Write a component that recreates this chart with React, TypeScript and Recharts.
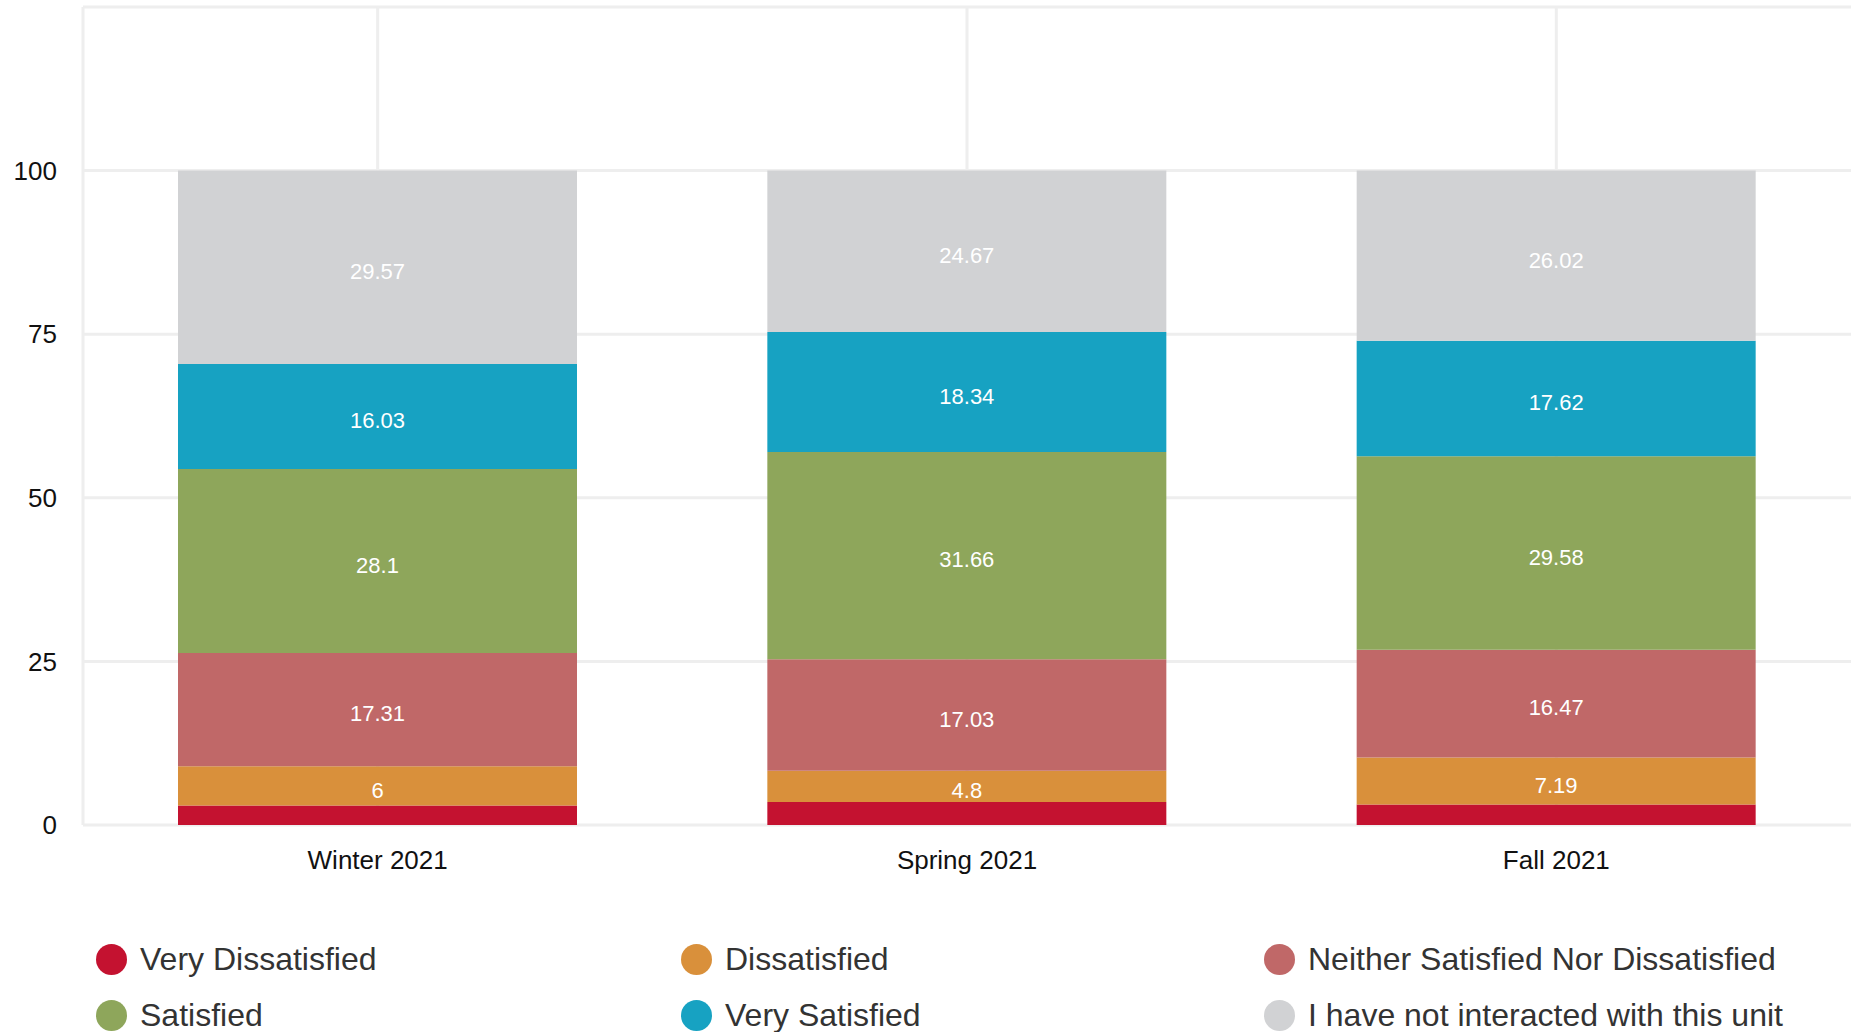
import { Bar, BarChart, CartesianGrid, LabelList, XAxis, YAxis } from "recharts"

const terms = ["Winter 2021", "Spring 2021", "Fall 2021"]

const veryDissatisfied = [2.99, 3.5, 3.12]
const dissatisfied = [6, 4.8, 7.19]
const neither = [17.31, 17.03, 16.47]
const satisfied = [28.1, 31.66, 29.58]
const verySatisfied = [16.03, 18.34, 17.62]
const notInteracted = [29.57, 24.67, 26.02]

const yTicks = [0, 25, 50, 75, 100, 125]

const series = [
  { key: "veryDissatisfied", name: "Very Dissatisfied", color: "#c41230", values: veryDissatisfied, label: false },
  { key: "dissatisfied", name: "Dissatisfied", color: "#d9903b", values: dissatisfied, label: true },
  { key: "neither", name: "Neither Satisfied Nor Dissatisfied", color: "#c06868", values: neither, label: true },
  { key: "satisfied", name: "Satisfied", color: "#8ea65b", values: satisfied, label: true },
  { key: "verySatisfied", name: "Very Satisfied", color: "#17a2c2", values: verySatisfied, label: true },
  { key: "notInteracted", name: "I have not interacted with this unit", color: "#d1d2d4", values: notInteracted, label: true },
]

// legend reads left-to-right, three per row
const legendOrder = [0, 1, 2, 3, 4, 5]

const FONT = "'Liberation Sans', Arial, Helvetica, sans-serif"

export default function App() {
  const data = terms.map((name, i) => {
    const row: Record<string, string | number> = { name }
    series.forEach((s) => {
      row[s.key] = s.values[i]
    })
    return row
  })

  return (
    <div style={{ position: "absolute", left: 0, top: 0, width: 1856, height: 1032, background: "#fff", fontFamily: FONT }}>
      <BarChart
        width={1856}
        height={1032}
        data={data}
        margin={{ top: 7, right: 5, left: 0, bottom: 152 }}
        barSize={399}
      >
        <CartesianGrid stroke="#eeeeee" strokeWidth={3} syncWithTicks />
        <XAxis
          dataKey="name"
          axisLine={false}
          tickLine={false}
          tickSize={0}
          tickMargin={26}
          height={55}
          tick={{ fill: "#111", fontSize: 26, fontFamily: FONT }}
        />
        <YAxis
          domain={[0, 125]}
          ticks={yTicks}
          width={83}
          tickSize={0}
          tickMargin={26}
          axisLine={{ stroke: "#eeeeee", strokeWidth: 3 }}
          tickLine={false}
          tickFormatter={(v: number) => (v === 125 ? "" : String(v))}
          tick={{ fill: "#111", fontSize: 26, fontFamily: FONT }}
        />
        {series.map((s) => (
          <Bar key={s.key} dataKey={s.key} name={s.name} stackId="a" fill={s.color} isAnimationActive={false}>
            {s.label && (
              <LabelList
                dataKey={s.key}
                position="center"
                fill="#ffffff"
                fontSize={22}
                fontFamily={FONT}
                dy={4}
              />
            )}
          </Bar>
        ))}
      </BarChart>

      <div
        style={{
          position: "absolute",
          left: 96,
          top: 931,
          display: "grid",
          gridTemplateColumns: "585px 583px auto",
          gridAutoRows: "56px",
        }}
      >
        {legendOrder.map((i) => (
          <div key={series[i].key} style={{ display: "flex", alignItems: "center" }}>
            <span
              style={{
                width: 31,
                height: 31,
                borderRadius: "50%",
                background: series[i].color,
                display: "inline-block",
                marginRight: 13,
                flexShrink: 0,
              }}
            />
            <span style={{ fontSize: 32, color: "#333", whiteSpace: "nowrap" }}>{series[i].name}</span>
          </div>
        ))}
      </div>
    </div>
  )
}
